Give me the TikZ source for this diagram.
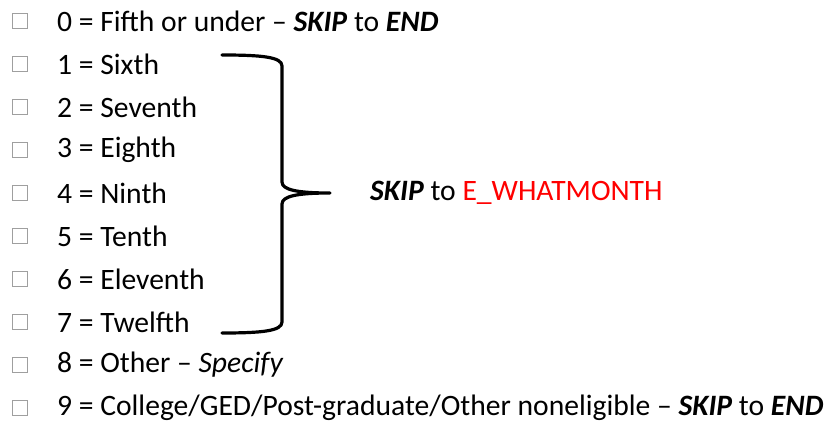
\documentclass[tikz,border=0pt]{standalone}
\usepackage{fontspec}
\setmainfont{Carlito}
\usetikzlibrary{positioning}
\definecolor{skipred}{RGB}{255,0,0}
\tikzset{
	chkbox/.style={draw=gray!75, line width=1pt, minimum size=15pt, inner sep=0pt},
	option/.style={anchor=west, inner sep=0pt, font=\fontsize{29.6}{34}\selectfont},
	bracket/.style={line width=3.2pt, line cap=round, line join=round}
}
\begin{document}
\begin{tikzpicture}[x=1pt,y=-1pt]
	\useasboundingbox (0,0) rectangle (824,422);
	% check boxes
	\node[chkbox] (box0) at (20,21) {};
	\node[chkbox] (box1) at (20,64) {};
	\node[chkbox] (box2) at (20,107) {};
	\node[chkbox] (box3) at (20,150) {};
	\node[chkbox] (box4) at (20,193) {};
	\node[chkbox] (box5) at (20,236) {};
	\node[chkbox] (box6) at (20,279) {};
	\node[chkbox] (box7) at (20,322) {};
	\node[chkbox] (box8) at (20,365) {};
	\node[chkbox] (box9) at (20,408) {};
	% answer options
	\node[option] (opt0) at (57,21) {0 = Fifth or under -- \textbf{\textit{SKIP}} to \textbf{\textit{END}}};
	\node[option] (opt1) at (57,64) {1 = Sixth};
	\node[option] (opt2) at (57,107) {2 = Seventh};
	\node[option] (opt3) at (57,150) {3 = Eighth};
	\node[option] (opt4) at (57,193) {4 = Ninth};
	\node[option] (opt5) at (57,236) {5 = Tenth};
	\node[option] (opt6) at (57,279) {6 = Eleventh};
	\node[option] (opt7) at (57,322) {7 = Twelfth};
	\node[option] (opt8) at (57,365) {8 = Other -- \textit{Specify}};
	\node[option] (opt9) at (57,408) {9 = College/GED/Post-graduate/Other noneligible -- \textbf{\textit{SKIP}} to \textbf{\textit{END}}};
	% brace for 1--7
	\node[option] (skip) at (370,193) {\textbf{\textit{SKIP}} to \textcolor{skipred}{E\_WHATMONTH}};
	\coordinate (tip) at (330,193);
	\draw[bracket] (222,55) .. controls (262,55) and (282,57) .. (282,66) -- (282,182)
		.. controls (282,190) and (298,193) .. (tip)
		.. controls (298,193) and (282,196) .. (282,204) -- (282,322)
		.. controls (282,331) and (262,333) .. (222,333);
\end{tikzpicture}
\end{document}
